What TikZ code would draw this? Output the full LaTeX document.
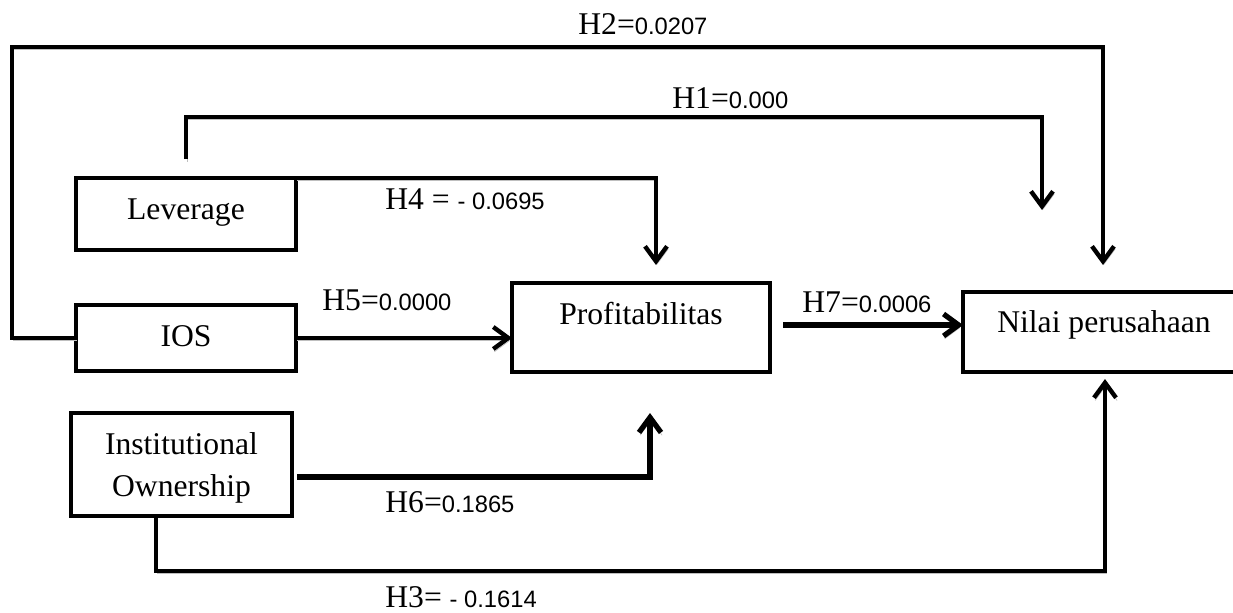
\documentclass[tikz,border=0pt]{standalone}
\usepackage{fontspec}
\setmainfont{Liberation Serif}
\newfontfamily\arial{Liberation Sans}
\usetikzlibrary{arrows.meta,positioning}
\newcommand{\hval}[2]{#1{\arial\fontsize{13.5}{16}\selectfont#2}}

\begin{document}
\begin{tikzpicture}[x=0.02cm, y=-0.02cm,
      box/.style={draw, line width=2.2pt, inner sep=0pt, outer sep=0pt, anchor=north west, font=\fontsize{18}{23.8}\selectfont},
      link/.style={line width=2.5pt, -{Straight Barb[length=0.3cm, width=0.44cm]}, preaction={draw=black!25, transform canvas={shift={(0.6pt,-1.6pt)}}}},
      boldlink/.style={link, line width=3pt},
      hlab/.style={inner sep=0pt, anchor=west, font=\fontsize{18}{22}\selectfont}]
      \useasboundingbox (0,0) rectangle (1233,612);
      \node [box, minimum width=4.4cm, text height=0.84cm, text depth=0.6cm] (lev) at (76,178) {Leverage};
      \node [box, minimum width=4.4cm, text height=0.84cm, text depth=0.48cm] (ios) at (76,305) {IOS};
      \node [box, text width=4.42cm, align=center, text height=0.84cm, text depth=1.22cm] (inst) at (71,413) {Institutional\\Ownership};
      \node [box, minimum width=5.16cm, text height=0.84cm, text depth=0.94cm] (prof) at (512,283) {Profitabilitas};
      \node [box, minimum width=5.64cm, text height=0.82cm, text depth=0.78cm] (nil) at (963,292) {Nilai perusahaan};
      \coordinate (h1s) at (186,159);
      \coordinate (h1e) at (1042,210);
      \coordinate (h2e) at (1103,265);
      \coordinate (h3e) at (1105,379);
      \coordinate (h4e) at (656,265);
      \coordinate (h6s) at (297,477);
      \coordinate (h6e) at (650,413);
      \coordinate (h7s) at (783,325);
      \draw [link] (lev.north east) -| (h4e);
      \draw [link] (h1s) -- ++(0,-42) -| (h1e);
      \draw [link] (ios.west) -| (12,47) -| (h2e);
      \draw [link] (ios.east) -- (ios.east -| prof.west);
      \draw [boldlink] (h7s) -- (h7s -| nil.west);
      \draw [boldlink] (h6s) -| (h6e);
      \draw [link] ([xshift=-0.51cm]inst.south) -- ++(0,55) -| (h3e);
      \node [hlab] (l2) at (578,24) {\hval{H2=}{0.0207}};
      \node [hlab] (l1) at (672,98) {\hval{H1=}{0.000}};
      \node [hlab] (l4) at (385,199) {\hval{H4 = }{- 0.0695}};
      \node [hlab] (l5) at (322,300) {\hval{H5=}{0.0000}};
      \node [hlab] (l7) at (802,302) {\hval{H7=}{0.0006}};
      \node [hlab] (l6) at (385,502) {\hval{H6=}{0.1865}};
      \node [hlab] (l3) at (385,597) {\hval{H3= }{- 0.1614}};
     \end{tikzpicture}
\end{document}
